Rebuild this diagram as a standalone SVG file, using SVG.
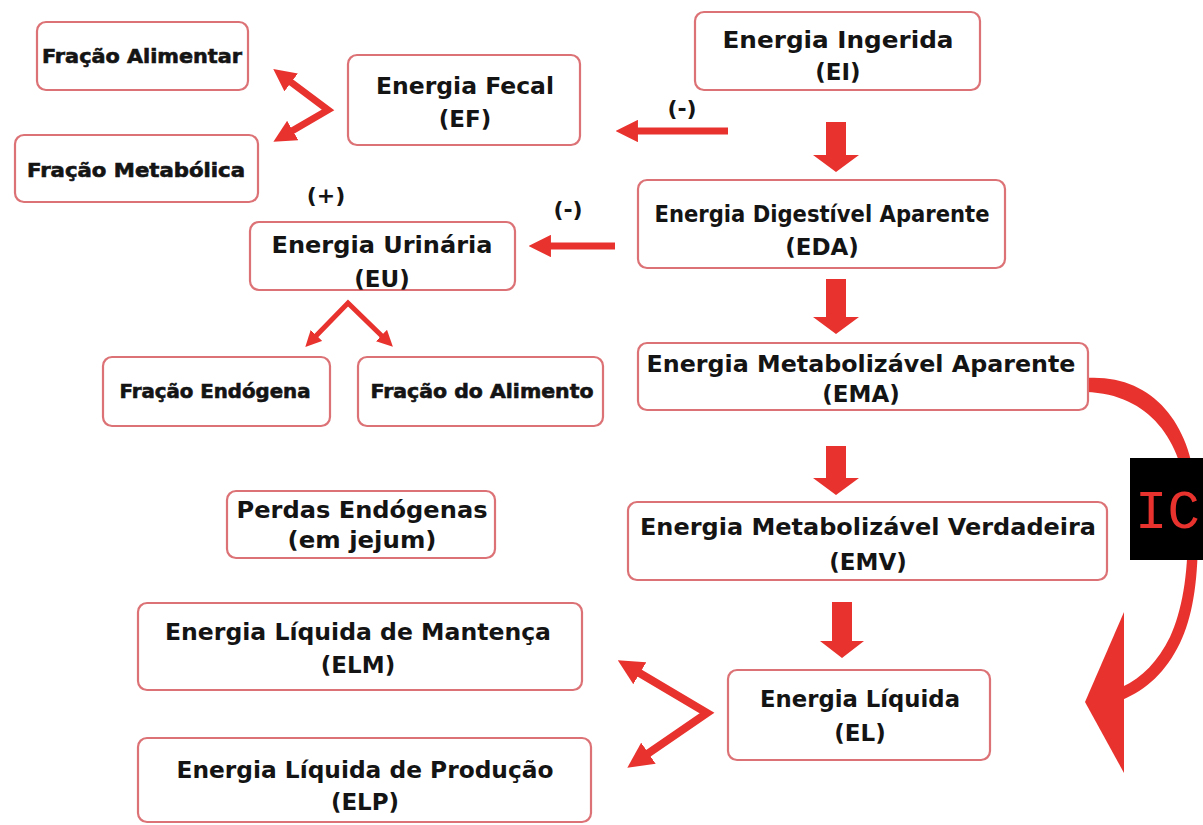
<svg xmlns="http://www.w3.org/2000/svg" width="1203" height="825" viewBox="0 0 1203 825">
<defs>
<style>
.box{fill:#fff;stroke:#dc7275;stroke-width:2.2}
.t{font-family:"DejaVu Sans","Liberation Sans",sans-serif;font-weight:bold;font-size:23px;fill:#141414;text-anchor:middle}
.s{font-size:19px;stroke:#141414;stroke-width:0.6}
.sign{font-family:"DejaVu Sans","Liberation Sans",sans-serif;font-weight:bold;font-size:22px;fill:#141414;text-anchor:middle}
.ln{fill:none;stroke:#e8322e;stroke-linejoin:miter}
.blk{fill:#e8322e}
</style>
<marker id="ah" viewBox="0 0 10 10" refX="4" refY="5" markerWidth="3.2" markerHeight="3.2" orient="auto-start-reverse" markerUnits="strokeWidth">
<path d="M0,0 L10,5 L0,10 z" fill="#e8322e"/>
</marker>
</defs>
<rect width="1203" height="825" fill="#fff"/>

<g id="connectors">
<path class="ln" d="M728,131 H629" stroke-width="7" marker-end="url(#ah)"/>
<path class="ln" d="M615,246 H542" stroke-width="7" marker-end="url(#ah)"/>
<polyline class="ln" points="284,77 328,110 285,135" stroke-width="7" marker-start="url(#ah)" marker-end="url(#ah)"/>
<polyline class="ln" points="312,340 348,303 386,340" stroke-width="5" marker-start="url(#ah)" marker-end="url(#ah)"/>
<polyline class="ln" points="631,668 707,713 640,759" stroke-width="8" marker-start="url(#ah)" marker-end="url(#ah)"/>
<path class="blk" d="M826,122 H846 V155 H859 L836,172 L813,155 H826 Z"/>
<path class="blk" d="M826,279 H846 V317 H859 L836,334 L813,317 H826 Z"/>
<path class="blk" d="M826,446 H846 V478 H859 L836,495 L813,478 H826 Z"/>
<path class="blk" d="M832,602 H852 V641 H864 L842,658 L820,641 H832 Z"/>
<path class="blk" d="M1086,378 C1150,374 1190,420 1196,490 C1201,560 1196,610 1180,643 C1166,672 1146,690 1122,700 L1122,687 C1142,678 1158,661 1170,637 C1185,604 1190,560 1187,500 C1182,441 1150,394 1086,392 Z"/>
<path class="blk" d="M1124,612 L1085,702 L1124,773 Z"/>
</g>

<g id="ic">
<rect x="1130" y="458" width="73" height="102" fill="#000"/>
<text x="1135" y="528" font-family="Liberation Mono, monospace" font-size="54" fill="#e8322e">IC</text>
</g>

<g id="fracao-alimentar">
<rect class="box" x="37" y="22" width="211" height="68" rx="9"/>
<text class="t s" x="142" y="63" textLength="200" lengthAdjust="spacingAndGlyphs">Fração Alimentar</text>
</g>
<g id="fracao-metabolica">
<rect class="box" x="15" y="135" width="243" height="67" rx="9"/>
<text class="t s" x="136" y="177" textLength="218" lengthAdjust="spacingAndGlyphs">Fração Metabólica</text>
</g>
<g id="energia-fecal">
<rect class="box" x="348" y="55" width="232" height="90" rx="9"/>
<text class="t" x="465" y="94" textLength="178" lengthAdjust="spacingAndGlyphs">Energia Fecal</text>
<text class="t" x="465" y="127">(EF)</text>
</g>
<g id="energia-ingerida">
<rect class="box" x="695" y="12" width="285" height="78" rx="9"/>
<text class="t" x="838" y="48" textLength="231" lengthAdjust="spacingAndGlyphs">Energia Ingerida</text>
<text class="t" x="838" y="80">(EI)</text>
</g>
<text class="sign" x="682" y="116">(-)</text>
<g id="eda">
<rect class="box" x="638" y="180" width="367" height="88" rx="9"/>
<text class="t" x="822" y="222" textLength="335" lengthAdjust="spacingAndGlyphs">Energia Digestível Aparente</text>
<text class="t" x="822" y="255">(EDA)</text>
</g>
<text class="sign" x="568" y="217">(-)</text>
<text class="sign" x="326" y="203">(+)</text>
<g id="energia-urinaria">
<rect class="box" x="250" y="222" width="265" height="68" rx="9"/>
<text class="t" x="382" y="253" textLength="221" lengthAdjust="spacingAndGlyphs">Energia Urinária</text>
<text class="t" x="382" y="287">(EU)</text>
</g>
<g id="fracao-endogena">
<rect class="box" x="103" y="357" width="227" height="69" rx="9"/>
<text class="t s" x="215" y="398" textLength="191" lengthAdjust="spacingAndGlyphs">Fração Endógena</text>
</g>
<g id="fracao-alimento">
<rect class="box" x="358" y="357" width="245" height="69" rx="9"/>
<text class="t s" x="482" y="398" textLength="223" lengthAdjust="spacingAndGlyphs">Fração do Alimento</text>
</g>
<g id="ema">
<rect class="box" x="638" y="343" width="450" height="67" rx="9"/>
<text class="t" x="861" y="372" textLength="429" lengthAdjust="spacingAndGlyphs">Energia Metabolizável Aparente</text>
<text class="t" x="861" y="402">(EMA)</text>
</g>
<g id="perdas">
<rect class="box" x="227" y="491" width="268" height="67" rx="9"/>
<text class="t" x="362" y="518" textLength="251" lengthAdjust="spacingAndGlyphs">Perdas Endógenas</text>
<text class="t" x="362" y="548" textLength="149" lengthAdjust="spacingAndGlyphs">(em jejum)</text>
</g>
<g id="emv">
<rect class="box" x="628" y="502" width="479" height="78" rx="9"/>
<text class="t" x="868" y="535" textLength="456" lengthAdjust="spacingAndGlyphs">Energia Metabolizável Verdadeira</text>
<text class="t" x="868" y="570">(EMV)</text>
</g>
<g id="elm">
<rect class="box" x="138" y="603" width="444" height="87" rx="9"/>
<text class="t" x="358" y="640" textLength="386" lengthAdjust="spacingAndGlyphs">Energia Líquida de Mantença</text>
<text class="t" x="358" y="673">(ELM)</text>
</g>
<g id="elp">
<rect class="box" x="138" y="738" width="453" height="84" rx="9"/>
<text class="t" x="365" y="778" textLength="377" lengthAdjust="spacingAndGlyphs">Energia Líquida de Produção</text>
<text class="t" x="365" y="810">(ELP)</text>
</g>
<g id="energia-liquida">
<rect class="box" x="728" y="670" width="262" height="90" rx="9"/>
<text class="t" x="860" y="707" textLength="200" lengthAdjust="spacingAndGlyphs">Energia Líquida</text>
<text class="t" x="860" y="741">(EL)</text>
</g>
</svg>
